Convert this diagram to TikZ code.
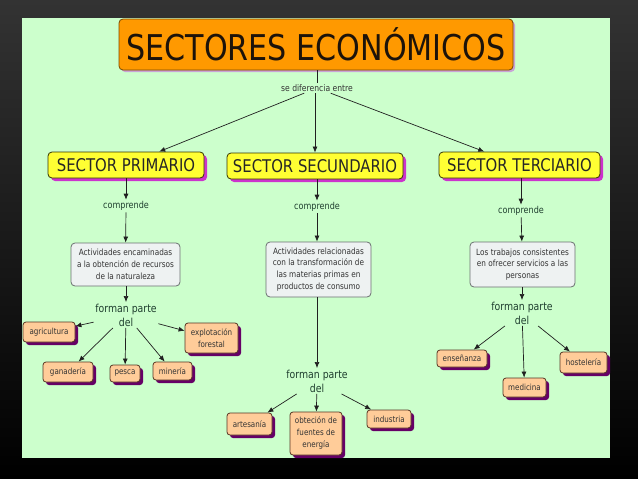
\documentclass[tikz,border=0pt]{standalone}
\usepackage{fontspec}
\setmainfont[FakeStretch=0.85]{DejaVu Sans}
\usetikzlibrary{shadows,arrows.meta}
\definecolor{bggreen}{HTML}{CCFFCC}
\definecolor{frametop}{HTML}{333333}
\definecolor{titlefill}{HTML}{FF9900}
\definecolor{titledraw}{HTML}{7A4A00}
\definecolor{titleshadow}{HTML}{C9A3D6}
\definecolor{secfill}{HTML}{FFFF33}
\definecolor{secdraw}{HTML}{333300}
\definecolor{secshadow}{HTML}{CC33CC}
\definecolor{actfill}{HTML}{EEF2F2}
\definecolor{actdraw}{HTML}{6A7070}
\definecolor{leaffill}{HTML}{FFCC99}
\definecolor{leafdraw}{HTML}{553322}
\definecolor{leafshadow}{HTML}{660066}
\definecolor{lbltext}{HTML}{1F3F2F}
\definecolor{arrcol}{HTML}{202020}
\begin{document}
\begin{tikzpicture}[x=1pt,y=-1pt,
  boxbase/.style={draw, rounded corners=4pt, align=center, inner sep=0pt, line width=0.8pt},
  titlebox/.style={boxbase, fill=titlefill, draw=titledraw, text=black!85!brown,
    drop shadow={shadow xshift=2pt, shadow yshift=-2pt, fill=titleshadow, opacity=1},
    font=\fontsize{35.5}{38}\selectfont},
  secbox/.style={boxbase, fill=secfill, draw=secdraw, text=black!85,
    drop shadow={shadow xshift=3pt, shadow yshift=-3pt, fill=secshadow, opacity=1},
    minimum height=26pt, font=\fontsize{17.5}{20}\selectfont},
  actbox/.style={boxbase, fill=actfill, draw=actdraw, text=black!80,
    font=\fontsize{8.6}{11.8}\selectfont},
  leafbox/.style={boxbase, fill=leaffill, draw=leafdraw, text=black!80, rounded corners=3pt,
    drop shadow={shadow xshift=3pt, shadow yshift=-3pt, fill=leafshadow, opacity=1},
    font=\fontsize{8.4}{12}\selectfont},
  lbl/.style={text=lbltext, align=center, inner sep=1.5pt},
  smalllbl/.style={lbl, font=\fontsize{9.5}{11}\selectfont},
  fplbl/.style={lbl, font=\fontsize{11}{14}\selectfont},
  arr/.style={draw=arrcol, line width=0.7pt, -{Latex[length=6pt,width=5pt]}},
  plain/.style={draw=arrcol, line width=0.7pt}
]
\useasboundingbox (0,0) rectangle (638,479);
\shade[top color=frametop, bottom color=black] (0,0) rectangle (638,479);
\fill[bggreen] (22,18) rectangle (610,458);

% title
\node[titlebox, minimum width=394pt, minimum height=51pt] (title) at (316,44.5) {SECTORES ECONÓMICOS};
\node[lbl, font=\fontsize{9}{11}\selectfont, text=black!80] (sde) at (317,88) {se diferencia entre};

% sectors
\node[secbox, minimum width=156pt] (prim) at (126,165) {SECTOR PRIMARIO};
\node[secbox, minimum width=176pt] (sec) at (315,166) {SECTOR SECUNDARIO};
\node[secbox, minimum width=161pt] (ter) at (519.5,165) {SECTOR TERCIARIO};

% comprende
\node[smalllbl] (c1) at (126,206) {comprende};
\node[smalllbl] (c2) at (317,207) {comprende};
\node[smalllbl] (c3) at (521,211) {comprende};

% activity boxes
\node[actbox, minimum width=109pt, minimum height=43pt] (a1) at (125.5,264.5)
  {Actividades encaminadas\\a la obtención de recursos\\de la naturaleza};
\node[actbox, minimum width=105pt, minimum height=55pt] (a2) at (318.5,269.5)
  {Actividades relacionadas\\con la transformación de\\las materias primas en\\productos de consumo};
\node[actbox, minimum width=105pt, minimum height=45pt] (a3) at (522.5,264.5)
  {Los trabajos consistentes\\en ofrecer servicios a las\\personas};

% forman parte
\node[fplbl] (f1) at (126,315) {forman parte\\del};
\node[fplbl] (f2) at (317,381) {forman parte\\del};
\node[fplbl] (f3) at (522,313) {forman parte\\del};

% leaves primary
\node[leafbox, minimum width=52pt, minimum height=20pt] (agri) at (49,332) {agricultura};
\node[leafbox, minimum width=53pt, minimum height=30pt] (explo) at (211.5,338) {explotación\\forestal};
\node[leafbox, minimum width=50pt, minimum height=20pt] (gana) at (68,372) {ganadería};
\node[leafbox, minimum width=30pt, minimum height=17pt] (pesca) at (125,373.5) {pesca};
\node[leafbox, minimum width=39pt, minimum height=18pt] (mine) at (172.5,371) {minería};

% leaves secondary
\node[leafbox, minimum width=45pt, minimum height=22pt] (arte) at (249.5,424) {artesanía};
\node[leafbox, minimum width=52pt, minimum height=43pt] (obte) at (316,433.5) {obteción de\\fuentes de\\energía};
\node[leafbox, minimum width=44pt, minimum height=18pt] (indu) at (389,419) {industria};

% leaves tertiary
\node[leafbox, minimum width=50pt, minimum height=17pt] (ense) at (462,358.5) {enseñanza};
\node[leafbox, minimum width=47pt, minimum height=21pt] (host) at (583.5,362.5) {hostelería};
\node[leafbox, minimum width=43pt, minimum height=19pt] (medi) at (524.5,387.5) {medicina};

% connectors
\draw[plain] (title.south -| sde.north) -- (sde.north);
\draw[arr] (sde) -- (prim);
\draw[arr] (sde.south -| sec.north) -- (sec.north);
\draw[arr] (sde) -- (ter);

\draw[arr] (prim.south -| c1.north) -- (c1.north);
\draw[arr] (sec.south -| c2.north) -- (c2.north);
\draw[arr] (ter.south -| c3.north) -- (c3.north);

\draw[arr] (c1) -- (a1);
\draw[arr] (c2.south) -- (c2.south |- a2.north);
\draw[arr] (c3) -- (a3);

\draw[arr] (a1.south -| f1.north) -- (f1.north);
\draw[arr] (a2.south -| f2.north) -- (f2.north);
\draw[arr] (a3.south -| f3.north) -- (f3.north);

\draw[arr] (f1) -- (agri);
\draw[arr] (f1) -- (explo);
\draw[arr] (f1) -- (gana);
\draw[arr] (f1) -- (pesca);
\draw[arr] (f1) -- (mine);

\draw[arr] (f2) -- (arte);
\draw[arr] (f2) -- (obte);
\draw[arr] (f2) -- (indu);

\draw[arr] (f3) -- (ense);
\draw[arr] (f3) -- (medi);
\draw[arr] (f3) -- (host);
\end{tikzpicture}
\end{document}
